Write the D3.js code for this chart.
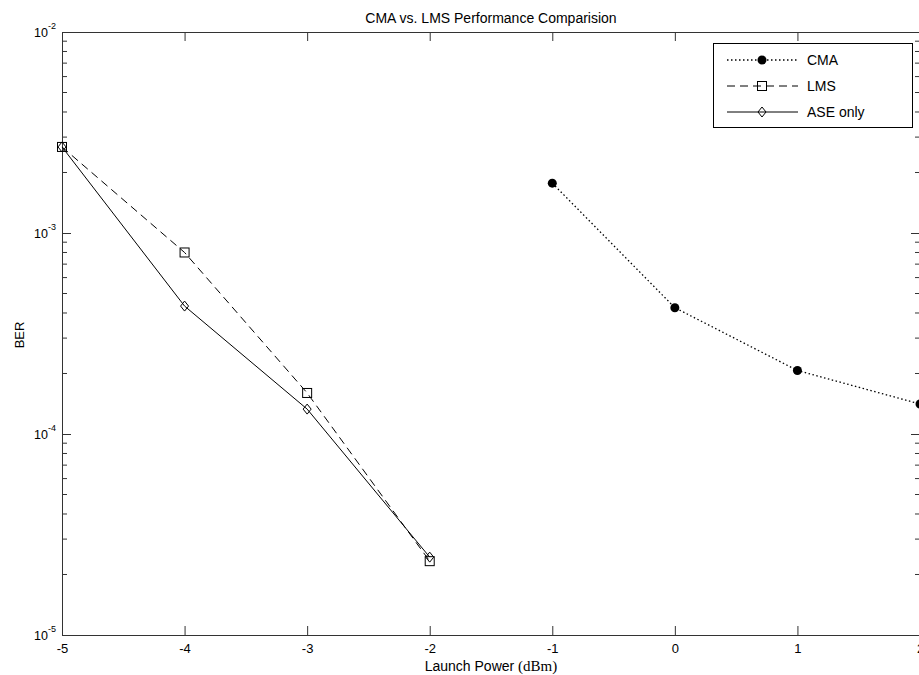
<!DOCTYPE html>
<html>
<head>
<meta charset="utf-8">
<script src="https://cdn.jsdelivr.net/npm/d3@7"></script>
<style>
  body { margin: 0; background: #fff; }
  svg { display: block; }
  text { font-family: "Liberation Sans", Arial, sans-serif; fill: #000; }
</style>
</head>
<body>
<div id="chart"></div>
<script>
// data
const xTicks = [-5, -4, -3, -2, -1, 0, 1, 2];
const yDecades = [-5, -4, -3, -2];
const cmaX = [-1, 0, 1, 2];
const cmaBer = [1.77e-3, 4.25e-4, 2.07e-4, 1.41e-4];
const lmsX = [-5, -4, -3, -2];
const lmsBer = [2.68e-3, 8.0e-4, 1.6e-4, 2.33e-5];
const aseX = [-5, -4, -3, -2];
const aseBer = [2.68e-3, 4.33e-4, 1.33e-4, 2.44e-5];
const seriesNames = ['CMA', 'LMS', 'ASE only'];

function init(elem) {
  // svg領域設定
  const svgWidth = 919;
  const svgHeight = 675;
  const svg = d3.select(elem)
    .append('svg')
    .attr('width', svgWidth)
    .attr('height', svgHeight);

  // plot area
  const left = 62, right = 920, top = 32, bottom = 635;

  // scale設定
  const xScale = d3.scaleLinear().domain([-5, 2]).range([left, right]);
  const yScale = d3.scaleLog().domain([1e-5, 1e-2]).range([bottom, top]);

  const axisColor = '#333';

  // minor ticks for log axis
  const minor = [];
  yDecades.slice(0, -1).forEach(d => {
    for (let k = 2; k <= 9; k++) minor.push(k * Math.pow(10, d));
  });
  const minorG = svg.append('g').attr('stroke', axisColor);
  minorG.selectAll('.mL').data(minor).enter().append('line')
    .attr('x1', left).attr('x2', left + 5)
    .attr('y1', d => yScale(d)).attr('y2', d => yScale(d));
  minorG.selectAll('.mR').data(minor).enter().append('line')
    .attr('x1', right).attr('x2', right - 5)
    .attr('y1', d => yScale(d)).attr('y2', d => yScale(d));

  // x axes
  svg.append('g')
    .attr('transform', `translate(0,${bottom})`)
    .call(d3.axisBottom(xScale).tickValues(xTicks).tickSizeInner(-9).tickSizeOuter(0).tickPadding(9).tickFormat(d3.format('d')))
    .call(g => g.selectAll('path,line').attr('stroke', axisColor))
    .call(g => g.selectAll('text').attr('font-size', 13).attr('font-family', null).text(d => d < 0 ? '-' + Math.abs(d) : d));
  svg.append('g')
    .attr('transform', `translate(0,${top})`)
    .call(d3.axisTop(xScale).tickValues(xTicks).tickSizeInner(-9).tickSizeOuter(0).tickFormat(''))
    .call(g => g.selectAll('path,line').attr('stroke', axisColor));

  // y axes
  const yVals = yDecades.map(d => Math.pow(10, d));
  svg.append('g')
    .attr('transform', `translate(${left},0)`)
    .call(d3.axisLeft(yScale).tickValues(yVals).tickSizeInner(-9).tickSizeOuter(0).tickPadding(6).tickFormat(''))
    .call(g => g.selectAll('path,line').attr('stroke', axisColor))
    .call(g => g.selectAll('.tick text')
      .attr('font-size', 12.5).attr('font-family', null)
      .each(function (d) {
        const t = d3.select(this);
        t.append('tspan').text('10');
        t.append('tspan').attr('dy', -8).attr('font-size', 9).text(Math.round(Math.log10(d)));
      }));
  svg.append('g')
    .attr('transform', `translate(${right},0)`)
    .call(d3.axisRight(yScale).tickValues(yVals).tickSizeInner(-9).tickSizeOuter(0).tickFormat(''))
    .call(g => g.selectAll('path,line').attr('stroke', axisColor));

  // series
  const series = [
    { name: seriesNames[0], x: cmaX, y: cmaBer, dash: '1.5,2.5', width: 1.3, marker: 'dot' },
    { name: seriesNames[1], x: lmsX, y: lmsBer, dash: '8,5', width: 1, marker: 'square' },
    { name: seriesNames[2], x: aseX, y: aseBer, dash: null, width: 1, marker: 'diamond' }
  ];

  const line = d3.line().x(d => xScale(d[0])).y(d => yScale(d[1]));

  function drawMarker(g, type, cx, cy) {
    if (type === 'dot') {
      g.append('circle').attr('cx', cx).attr('cy', cy).attr('r', 4.5).attr('fill', '#000');
    } else if (type === 'square') {
      g.append('rect').attr('x', cx - 4.5).attr('y', cy - 4.5).attr('width', 9).attr('height', 9)
        .attr('fill', 'none').attr('stroke', '#000');
    } else {
      g.append('path').attr('d', `M${cx},${cy - 5}L${cx + 4},${cy}L${cx},${cy + 5}L${cx - 4},${cy}Z`)
        .attr('fill', 'none').attr('stroke', '#000');
    }
  }

  series.forEach(s => {
    const pts = s.x.map((x, i) => [x, s.y[i]]);
    svg.append('path')
      .datum(pts)
      .attr('fill', 'none')
      .attr('stroke', '#000')
      .attr('stroke-width', s.width)
      .attr('stroke-dasharray', s.dash)
      .attr('d', line);
    const mg = svg.append('g');
    pts.forEach(p => drawMarker(mg, s.marker, xScale(p[0]), yScale(p[1])));
  });

  // legend
  const lg = svg.append('g');
  lg.append('rect')
    .attr('x', 713.5).attr('y', 43.5).attr('width', 199).attr('height', 84)
    .attr('fill', '#fff').attr('stroke', '#000');
  series.forEach((s, i) => {
    const yy = 60 + i * 26;
    lg.append('line')
      .attr('x1', 727).attr('x2', 798).attr('y1', yy).attr('y2', yy)
      .attr('stroke', '#000').attr('stroke-width', s.width).attr('stroke-dasharray', s.dash);
    drawMarker(lg, s.marker, 762, yy);
    lg.append('text')
      .attr('x', 807).attr('y', yy).attr('dy', '0.35em')
      .attr('font-size', 14)
      .text(s.name);
  });

  // title & labels
  svg.append('text')
    .attr('x', (left + right) / 2).attr('y', 23)
    .attr('text-anchor', 'middle').attr('font-size', 14)
    .text('CMA vs. LMS Performance Comparision');

  const xl = svg.append('text')
    .attr('x', (left + right) / 2).attr('y', 671)
    .attr('text-anchor', 'middle').attr('font-size', 14);
  xl.append('tspan').text('Launch Power ');
  xl.append('tspan').attr('font-family', '"Liberation Serif", "Times New Roman", serif').attr('font-size', 15).text('(dBm)');

  svg.append('text')
    .attr('transform', 'translate(24,335) rotate(-90)')
    .attr('text-anchor', 'middle').attr('font-size', 13)
    .text('BER');
}

init('#chart');
</script>
</body>
</html>
